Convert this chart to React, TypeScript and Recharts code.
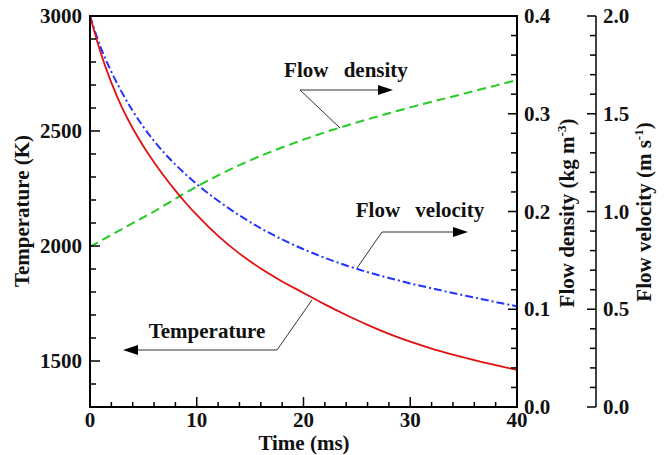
import React from "react";
import { LineChart, Line, XAxis, YAxis, ReferenceArea } from "recharts";

// values
const time = [0, 1, 2, 3, 4, 5, 6, 7, 8, 9, 10, 12, 14, 16, 18, 20, 22, 24, 26, 28, 30, 32, 34, 36, 38, 40];
const temperature = [3000, 2840, 2710, 2602, 2512, 2434, 2364, 2300, 2241, 2186, 2135, 2044, 1967, 1902, 1846, 1796, 1746, 1700, 1657, 1618, 1584, 1554, 1528, 1504, 1482, 1461];
const density = [0.164, 0.17, 0.176, 0.182, 0.188, 0.194, 0.2, 0.2065, 0.213, 0.2195, 0.2255, 0.237, 0.2475, 0.257, 0.2655, 0.2735, 0.281, 0.2878, 0.2943, 0.3005, 0.3065, 0.3122, 0.3177, 0.3233, 0.3288, 0.3345];
const velocity = [2.0, 1.84, 1.715, 1.608, 1.515, 1.433, 1.361, 1.297, 1.24, 1.188, 1.14, 1.055, 0.98, 0.914, 0.857, 0.807, 0.763, 0.724, 0.69, 0.66, 0.632, 0.607, 0.583, 0.56, 0.537, 0.515];

const timeTicks = [0, 2, 4, 6, 8, 10, 12, 14, 16, 18, 20, 22, 24, 26, 28, 30, 32, 34, 36, 38, 40];
const tempTicks = [1300, 1400, 1500, 1600, 1700, 1800, 1900, 2000, 2100, 2200, 2300, 2400, 2500, 2600, 2700, 2800, 2900, 3000];
const densityTicks = [0, 0.02, 0.04, 0.06, 0.08, 0.1, 0.12, 0.14, 0.16, 0.18, 0.2, 0.22, 0.24, 0.26, 0.28, 0.3, 0.32, 0.34, 0.36, 0.38, 0.4];
const velocityTicks = [0, 0.1, 0.2, 0.3, 0.4, 0.5, 0.6, 0.7, 0.8, 0.9, 1.0, 1.1, 1.2, 1.3, 1.4, 1.5, 1.6, 1.7, 1.8, 1.9, 2.0];

const data = time.map((t, i) => ({ t, T: temperature[i], rho: density[i], v: velocity[i] }));

const SERIF = "Liberation Serif";

const T = ({ children, ...rest }: any) => (
  <text fontFamily={SERIF} fontWeight="bold" fontSize={21} fill="#111" style={{ fontFamily: SERIF, fontWeight: 700, fontSize: 21 }} {...rest}>
    {children}
  </text>
);

const isMajor = (v: number, step: number) => Math.abs(v / step - Math.round(v / step)) < 1e-6;

const LeftTick = (props: any) => {
  const { x, y, payload } = props;
  const major = isMajor(payload.value, 500);
  return (
    <g>
      <line x1={x} y1={y} x2={x + (major ? 10 : 6)} y2={y} stroke="#000" strokeWidth={1.5} />
      {major && (
        <T x={x - 8} y={y} dy="0.34em" textAnchor="end">
          {payload.value}
        </T>
      )}
    </g>
  );
};

const makeRightTick = (step: number, gap: number) => (props: any) => {
  const { x, y, payload } = props;
  const major = isMajor(payload.value, step);
  return (
    <g>
      <line x1={x} y1={y} x2={x - (major ? 9 : 6)} y2={y} stroke="#000" strokeWidth={1.5} />
      {major && (
        <T x={x + gap} y={y} dy="0.34em" textAnchor="start">
          {Number(payload.value).toFixed(1)}
        </T>
      )}
    </g>
  );
};

const BottomTick = (props: any) => {
  const { x, y, payload } = props;
  const major = isMajor(payload.value, 10);
  return (
    <g>
      <line x1={x} y1={y} x2={x} y2={y - (major ? 10 : 5)} stroke="#000" strokeWidth={1.5} />
      {major && (
        <T x={x} y={y + 20} textAnchor="middle">
          {payload.value}
        </T>
      )}
    </g>
  );
};

const DensityTick = makeRightTick(0.1, 7);
const VelocityTick = makeRightTick(0.5, 7);

export default function App() {
  return (
    <div style={{ position: "absolute", left: 0, top: 0, width: 666, height: 455, background: "#fff", fontFamily: SERIF, fontWeight: 700 }}>
      <LineChart width={666} height={455} data={data} margin={{ top: 16, right: 0, bottom: 0, left: 0 }} style={{ fontFamily: SERIF }}>
        <XAxis
          dataKey="t"
          type="number"
          domain={[0, 40]}
          ticks={timeTicks}
          interval={0}
          allowDataOverflow
          height={48}
          tick={BottomTick}
          tickLine={false}
          tickSize={0}
          tickMargin={0}
          axisLine={{ stroke: "#000", strokeWidth: 2 }}
        />
        <YAxis
          yAxisId="T"
          orientation="left"
          type="number"
          width={90}
          domain={[1300, 3000]}
          ticks={tempTicks}
          interval={0}
          allowDataOverflow
          tick={LeftTick}
          tickLine={false}
          tickSize={0}
          tickMargin={0}
          axisLine={{ stroke: "#000", strokeWidth: 2 }}
        />
        <YAxis
          yAxisId="rho"
          orientation="right"
          type="number"
          width={79}
          domain={[0, 0.4]}
          ticks={densityTicks}
          interval={0}
          allowDataOverflow
          tick={DensityTick}
          tickLine={false}
          tickSize={0}
          tickMargin={0}
          axisLine={{ stroke: "#000", strokeWidth: 2 }}
        />
        <YAxis
          yAxisId="v"
          orientation="right"
          type="number"
          width={70}
          domain={[0, 2]}
          ticks={velocityTicks}
          interval={0}
          allowDataOverflow
          tick={VelocityTick}
          tickLine={false}
          tickSize={0}
          tickMargin={0}
          axisLine={{ stroke: "#000", strokeWidth: 1.5 }}
        />
        <ReferenceArea yAxisId="T" x1={0} x2={40} y1={1300} y2={3000} fill="none" stroke="#000" strokeWidth={2} />
        <Line yAxisId="rho" dataKey="rho" type="monotone" stroke="#22cc22" strokeWidth={2} strokeDasharray="9 5" dot={false} isAnimationActive={false} />
        <Line yAxisId="v" dataKey="v" type="monotone" stroke="#2233ff" strokeWidth={2} strokeDasharray="8 3 2 3" dot={false} isAnimationActive={false} />
        <Line yAxisId="T" dataKey="T" type="monotone" stroke="#e01010" strokeWidth={1.8} dot={false} isAnimationActive={false} />
      </LineChart>
      <svg width={666} height={455} style={{ position: "absolute", left: 0, top: 0, pointerEvents: "none", fontFamily: SERIF }}>
        {/* axis titles */}
        <T x={304} y={450} textAnchor="middle">Time (ms)</T>
        <T transform="translate(29,211) rotate(-90)" textAnchor="middle">Temperature (K)</T>
        <T transform="translate(574,213) rotate(-90)" textAnchor="middle">
          Flow density (kg m<tspan style={{ fontSize: 13 }} dy={-8}>-3</tspan><tspan dy={8}>)</tspan>
        </T>
        <T transform="translate(651,212) rotate(-90)" textAnchor="middle">
          Flow velocity (m s<tspan style={{ fontSize: 13 }} dy={-8}>-1</tspan><tspan dy={8}>)</tspan>
        </T>
        {/* callouts */}
        <g stroke="#333" strokeWidth={1} fill="none">
          <polyline points="340,128 300,90 380,90" />
          <polyline points="357,268 382,232 455,232" />
          <polyline points="312,300 277,350 136,350" />
        </g>
        <g fill="#000">
          <polygon points="393,90 378,85 378,95" />
          <polygon points="468,232 453,227 453,237" />
          <polygon points="123,350 138,345 138,355" />
        </g>
        <T x={346} y={77} textAnchor="middle" wordSpacing={10}>Flow density</T>
        <T x={420} y={217} textAnchor="middle" wordSpacing={10}>Flow velocity</T>
        <T x={207} y={338} textAnchor="middle">Temperature</T>
      </svg>
    </div>
  );
}
